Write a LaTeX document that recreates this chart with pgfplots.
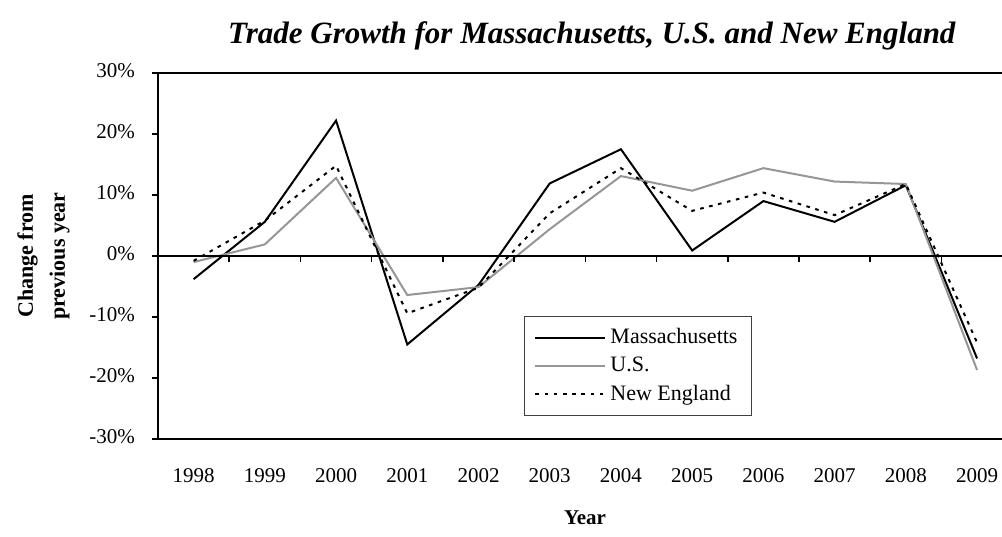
\documentclass[border=0pt]{standalone}
\usepackage{fontspec}
\setmainfont{Liberation Serif}
\usepackage{pgfplots}
\pgfplotsset{compat=1.18}
\definecolor{usgray}{RGB}{150,150,150}
\begin{document}
\begin{tikzpicture}
\begin{axis}[
  scale only axis,
  width=422pt, height=183pt,
  xmin=-0.5, xmax=11.35,
  ymin=-30, ymax=30,
  axis x line=box, axis y line=left,
  axis line style={-, line width=0.9pt},
  xtick={0,...,11},
  xticklabels={1998,1999,2000,2001,2002,2003,2004,2005,2006,2007,2008,2009},
  x tick style={draw=none},
  typeset ticklabels with strut,
  xticklabel style={font=\fontsize{10.5}{12}\selectfont, yshift=-7pt},
  ytick={-30,-20,...,30},
  yticklabels={-30\%,-20\%,-10\%,0\%,10\%,20\%,30\%},
  y tick style={line width=0.8pt, black},
  tick align=outside, major tick length=3pt,
  yticklabel style={font=\fontsize{10.5}{12}\selectfont, xshift=-5pt},
  title={Trade Growth for Massachusetts, U.S. and New England},
  title style={at={([yshift=8.5pt]rel axis cs:0.514,1)}, anchor=base,
    font=\bfseries\itshape\fontsize{15.5}{18}\selectfont, inner sep=0pt},
  xlabel={Year},
  xlabel style={at={([yshift=-35.5pt]rel axis cs:0.506,0)}, anchor=north,
    font=\bfseries\fontsize{10.5}{12}\selectfont, inner sep=0pt},
  ylabel={Change from\\previous year},
  ylabel style={at={([xshift=-44pt]rel axis cs:0,0.5)}, anchor=south, rotate=0,
    align=center, font=\bfseries\fontsize{11}{16}\selectfont, inner sep=0pt},
  legend style={at={(rel axis cs:0.4336,0.336)}, anchor=north west,
    draw=black!75, line width=0.5pt, inner xsep=5pt, inner ysep=4pt,
    font=\fontsize{11}{13}\selectfont, row sep=1.2pt},
  legend cell align=left,
  legend image code/.code={\draw[#1] (0pt,0pt) -- (35pt,0pt);},
]
\addplot[black, line width=1pt] coordinates {
  (0,-3.8) (1,5.6) (2,22.2) (3,-14.5) (4,-4.75) (5,11.9)
  (6,17.5) (7,0.9) (8,9.0) (9,5.6) (10,11.6) (11,-16.8)};
\addplot[usgray, line width=1pt] coordinates {
  (0,-1.0) (1,1.9) (2,12.8) (3,-6.4) (4,-5.1) (5,4.4)
  (6,13.1) (7,10.7) (8,14.4) (9,12.2) (10,11.8) (11,-18.7)};
\addplot[black, line width=1pt, dash pattern=on 1.8pt off 2.8pt] coordinates {
  (0,-0.8) (1,5.8) (2,14.8) (3,-9.4) (4,-5.2) (5,7.0)
  (6,14.4) (7,7.4) (8,10.4) (9,6.7) (10,11.8) (11,-14.2)};
\legend{Massachusetts,U.S.,New England}
\draw[black, line width=0.9pt] (axis cs:-0.5,0) -- (axis cs:11.35,0);
\pgfplotsinvokeforeach{0.5,1.5,...,10.5}{
  \draw[black, line width=0.8pt] (axis cs:#1,0) -- ([yshift=-3pt]axis cs:#1,0);
}
\coordinate (bl) at (rel axis cs:0,0);
\coordinate (tr) at (rel axis cs:1,1);
\end{axis}
\pgfresetboundingbox
\path[use as bounding box] ([xshift=-79pt,yshift=-49pt]bl) rectangle ([yshift=36.5pt]tr);
\end{tikzpicture}
\end{document}
